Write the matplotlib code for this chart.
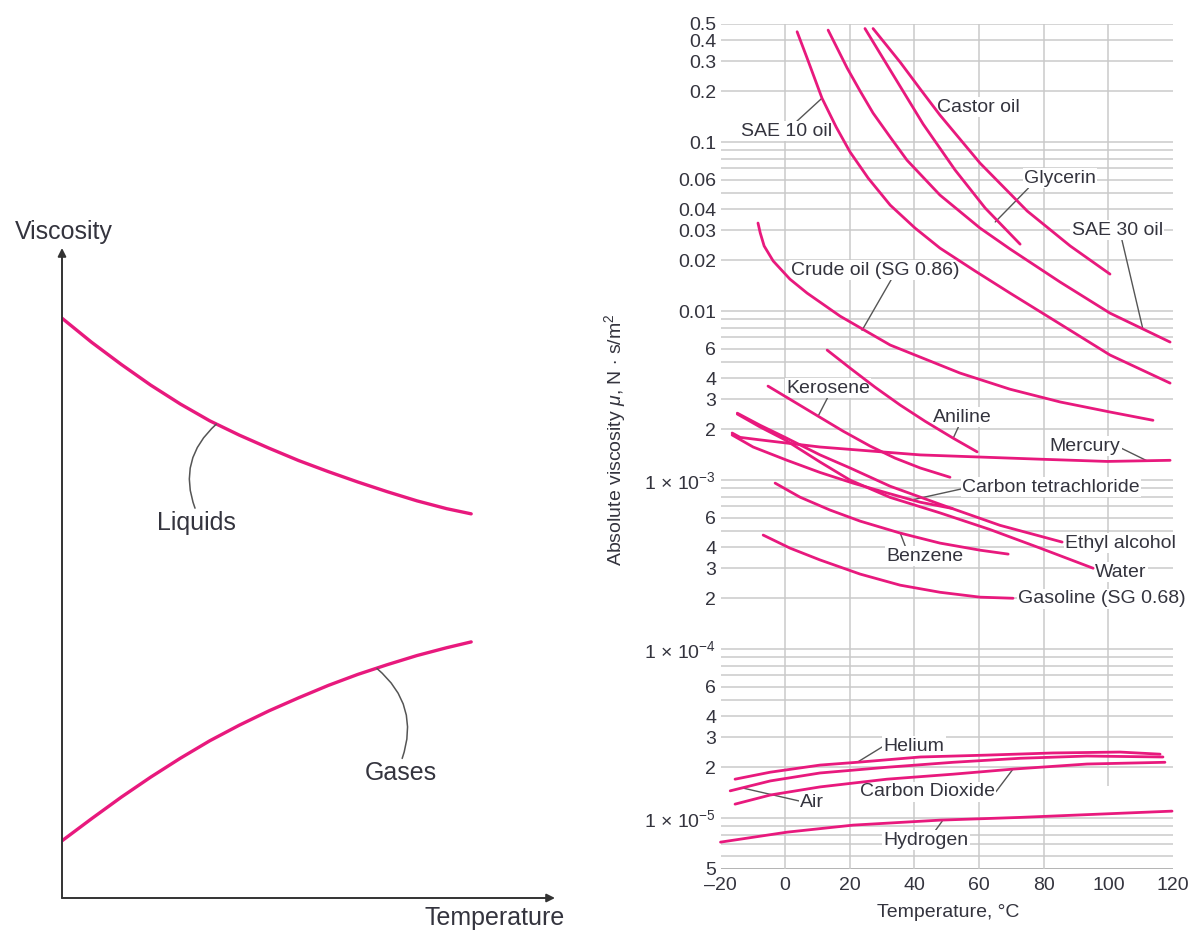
import matplotlib
matplotlib.use("Agg")
import matplotlib.pyplot as plt
from matplotlib.ticker import NullLocator

# --- schematic panel (arbitrary units) ---
liquids_x = [0.0, 0.06, 0.12, 0.18, 0.24, 0.30, 0.36, 0.42, 0.48, 0.54, 0.60, 0.66, 0.72, 0.78, 0.83]
liquids_y = [0.892, 0.855, 0.821, 0.789, 0.760, 0.734, 0.712, 0.692, 0.673, 0.656, 0.640, 0.625, 0.611, 0.599, 0.591]
gases_x = [0.0, 0.06, 0.12, 0.18, 0.24, 0.30, 0.36, 0.42, 0.48, 0.54, 0.60, 0.66, 0.72, 0.78, 0.83]
gases_y = [0.088, 0.122, 0.155, 0.186, 0.215, 0.242, 0.266, 0.288, 0.308, 0.327, 0.344, 0.359, 0.373, 0.385, 0.394]

# --- viscosity chart: temperature (C) and absolute viscosity (N s/m2) ---
sae10_T = [3.7, 6.8, 11.4, 15.8, 20.1, 25.7, 32.5, 40.2, 47.9, 58.8, 69.6, 85.1, 100.5, 119.1]
sae10_mu = [0.45, 0.314, 0.182, 0.1227, 0.0873, 0.0612, 0.0424, 0.031, 0.0236, 0.01726, 0.01278,
            0.00838, 0.0055, 0.00375]
sae30_T = [13.3, 19.2, 23.2, 27.2, 32.5, 37.7, 47.9, 60.3, 69.6, 85.1, 100.5, 119.1]
sae30_mu = [0.46, 0.274, 0.2004, 0.1486, 0.1071, 0.0782, 0.0486, 0.031, 0.0233, 0.01485, 0.00973, 0.00656]
glycerin_T = [24.7, 32.5, 42.7, 52.6, 61.9, 72.7]
glycerin_mu = [0.47, 0.267, 0.1278, 0.0683, 0.0407, 0.0249]
castor_T = [27.2, 35.6, 41.8, 47.9, 60.3, 74.9, 88.2, 100.5]
castor_mu = [0.47, 0.297, 0.206, 0.1445, 0.0751, 0.0391, 0.0243, 0.01656]
crude_T = [-8.4, -7.7, -6.5, -3.7, 1.5, 6.8, 17.0, 32.5, 54.1, 69.6, 85.1, 100.5, 113.8]
crude_mu = [0.0332, 0.029, 0.0243, 0.0198, 0.01545, 0.01278, 0.00934, 0.0063, 0.0043, 0.00345, 0.0029, 0.00253, 0.00226]
kerosene_T = [-5.3, 2.5, 10.2, 17.9, 26.3, 34.0, 41.8, 51.0]
kerosene_mu = [0.0036, 0.00293, 0.00239, 0.00195, 0.00159, 0.00135, 0.00118, 0.00104]
aniline_T = [13.0, 20.1, 27.8, 35.6, 43.3, 52.0, 59.4]
aniline_mu = [0.00588, 0.0046, 0.00355, 0.00278, 0.00223, 0.00177, 0.00147]
mercury_T = [-16.4, -13.9, -7.7, 10.8, 41.8, 78.9, 99.6, 119.1]
mercury_mu = [0.0019, 0.00179, 0.00173, 0.00157, 0.00141, 0.00133, 0.00129, 0.00131]
ccl4_T = [-16.4, -9.9, 0.6, 10.8, 21.0, 31.5, 41.8, 51.7]
ccl4_mu = [0.00185, 0.00157, 0.00131, 0.00111, 0.00096, 0.00084, 0.00074, 0.00068]
ethyl_T = [-14.8, -7.7, 0.0, 10.8, 20.1, 32.5, 47.9, 66.5, 85.7]
ethyl_mu = [0.00249, 0.00211, 0.00179, 0.00141, 0.00118, 0.00092, 0.00072, 0.00054, 0.00043]
water_T = [-14.8, -7.7, 0.0, 10.8, 20.1, 32.5, 47.9, 63.4, 78.9, 95.3]
water_mu = [0.00246, 0.00206, 0.00173, 0.00128, 0.0010, 0.00079, 0.00064, 0.00051, 0.000396, 0.000301]
benzene_T = [-3.1, 4.6, 13.9, 23.2, 35.6, 47.9, 60.3, 69.0]
benzene_mu = [0.00096, 0.000793, 0.000665, 0.000572, 0.000486, 0.000424, 0.000385, 0.000365]
gasoline_T = [-6.8, 1.5, 10.8, 23.2, 35.6, 47.9, 60.3, 70.5]
gasoline_mu = [0.000473, 0.000396, 0.000337, 0.000278, 0.000239, 0.000217, 0.000203, 0.0002]
helium_T = [-15.5, -4.6, 10.8, 22.3, 41.8, 62.5, 82.9, 103.6, 116.0]
helium_mu = [1.70e-5, 1.87e-5, 2.06e-5, 2.14e-5, 2.30e-5, 2.36e-5, 2.43e-5, 2.46e-5, 2.39e-5]
air_T = [-17.0, -4.6, 10.8, 31.5, 52.0, 72.7, 93.4, 116.9]
air_mu = [1.45e-5, 1.66e-5, 1.85e-5, 2.0e-5, 2.14e-5, 2.26e-5, 2.33e-5, 2.30e-5]
co2_T = [-15.5, -4.6, 10.8, 31.5, 52.0, 70.5, 93.4, 117.5]
co2_mu = [1.21e-5, 1.37e-5, 1.53e-5, 1.70e-5, 1.82e-5, 1.95e-5, 2.09e-5, 2.14e-5]
hydrogen_T = [-20.0, 0.6, 21.0, 47.9, 72.7, 119.7]
hydrogen_mu = [7.21e-6, 8.26e-6, 9.09e-6, 9.73e-6, 1.01e-5, 1.10e-5]

x_ticks = [-20, 0, 20, 40, 60, 80, 100, 120]
x_labels = ["\u201320", "0", "20", "40", "60", "80", "100", "120"]
y_ticks = [0.5, 0.4, 0.3, 0.2, 0.1, 0.06, 0.04, 0.03, 0.02, 0.01,
           6e-3, 4e-3, 3e-3, 2e-3, 1e-3, 6e-4, 4e-4, 3e-4, 2e-4, 1e-4,
           6e-5, 4e-5, 3e-5, 2e-5, 1e-5, 5e-6]
y_labels = ["0.5", "0.4", "0.3", "0.2", "0.1", "0.06", "0.04", "0.03", "0.02", "0.01",
            "6", "4", "3", "2", r"1 $\times$ 10$^{-3}$", "6", "4", "3", "2", r"1 $\times$ 10$^{-4}$",
            "6", "4", "3", "2", r"1 $\times$ 10$^{-5}$", "5"]

pink = "#e8197d"
ink = "#34343e"
lead = "#555555"
gridc = "#cacaca"

plt.rcParams["font.family"] = ["Liberation Sans", "DejaVu Sans"]
plt.rcParams["mathtext.fontset"] = "custom"
plt.rcParams["mathtext.rm"] = "Liberation Sans"
plt.rcParams["mathtext.it"] = "Liberation Sans:italic"

W, H = 1194, 936
fig = plt.figure(figsize=(W / 100, H / 100), dpi=100)

# ---------- left: schematic ----------
axl = fig.add_axes([62 / W, 1 - 898 / H, (555 - 62) / W, (898 - 248) / H])
axl.set_xlim(0, 1)
axl.set_ylim(0, 1)
axl.axis("off")
arrow = dict(arrowstyle="-|>", color="#333333", lw=1.4, mutation_scale=12, shrinkA=0, shrinkB=0)
axl.annotate("", xy=(0, 1.0), xytext=(0, 0), arrowprops=arrow, annotation_clip=False)
axl.annotate("", xy=(1.0, 0), xytext=(0, 0), arrowprops=arrow, annotation_clip=False)
axl.plot(liquids_x, liquids_y, color=pink, lw=2.4, solid_capstyle="round", solid_joinstyle="round")
axl.plot(gases_x, gases_y, color=pink, lw=2.4, solid_capstyle="round", solid_joinstyle="round")
axl.text(0.003, 1.025, "Viscosity", fontsize=18, color=ink, ha="center", va="center")
axl.text(1.02, -0.03, "Temperature", fontsize=18, color=ink, ha="right", va="center")
axl.annotate("Liquids", xy=(0.313, 0.729), xytext=(0.272, 0.577), fontsize=18, color=ink,
             ha="center", va="center",
             arrowprops=dict(arrowstyle="-", color=lead, lw=1.1, shrinkA=0, shrinkB=0,
                             relpos=(0.5, 1.0), connectionstyle="arc3,rad=-0.35"))
axl.annotate("Gases", xy=(0.639, 0.353), xytext=(0.688, 0.192), fontsize=18, color=ink,
             ha="center", va="center",
             arrowprops=dict(arrowstyle="-", color=lead, lw=1.1, shrinkA=0, shrinkB=0,
                             relpos=(0.5, 1.0), connectionstyle="arc3,rad=0.35"))

# ---------- right: viscosity chart ----------
ax = fig.add_axes([720.5 / W, 1 - 869 / H, (1173 - 720.5) / W, (869 - 24) / H])
ax.set_xlim(-20, 120)
ax.set_yscale("log")
ax.set_ylim(5e-6, 0.5)
for s in ax.spines.values():
    s.set_visible(False)

grid_vals = [k * 10.0 ** e for e in range(-6, 0) for k in range(1, 10)
             if 5e-6 * 0.999 <= k * 10.0 ** e <= 0.5 * 1.001]
ax.hlines(grid_vals, -20, 120, color=gridc, lw=1.1, zorder=1)
ax.hlines(5e-6, -20, 120, color="#b5b5b5", lw=1.4, zorder=1)
ax.vlines([0, 20, 40, 60, 80], 5e-6, 0.5, color=gridc, lw=1.1, zorder=1)
ax.vlines(100, 1.55e-5, 0.5, color=gridc, lw=1.1, zorder=1)

ax.set_xticks(x_ticks)
ax.set_xticklabels(x_labels)
ax.set_yticks(y_ticks)
ax.set_yticklabels(y_labels)
ax.yaxis.set_minor_locator(NullLocator())
ax.tick_params(axis="both", length=0, labelsize=14, labelcolor=ink)
ax.tick_params(axis="y", pad=3)
ax.tick_params(axis="x", pad=6)

ax.text(0.503, -0.051, "Temperature, \u00b0C", transform=ax.transAxes, fontsize=14,
        color=ink, ha="center", va="center")
ax.text(-0.232, 0.508, r"Absolute viscosity $\mu$, N $\cdot$ s/m$^2$", transform=ax.transAxes,
        fontsize=14, color=ink, ha="center", va="center", rotation=90)

curves = [(sae10_T, sae10_mu), (sae30_T, sae30_mu), (glycerin_T, glycerin_mu),
          (castor_T, castor_mu), (crude_T, crude_mu), (kerosene_T, kerosene_mu),
          (aniline_T, aniline_mu), (mercury_T, mercury_mu), (ccl4_T, ccl4_mu),
          (ethyl_T, ethyl_mu), (water_T, water_mu), (benzene_T, benzene_mu),
          (gasoline_T, gasoline_mu), (helium_T, helium_mu), (air_T, air_mu),
          (co2_T, co2_mu), (hydrogen_T, hydrogen_mu)]
for t, mu in curves:
    ax.plot(t, mu, color=pink, lw=2.0, solid_capstyle="round", solid_joinstyle="round",
            zorder=4, clip_on=False)

box = dict(facecolor="white", edgecolor="none", pad=1.0)


def label(text, xytext, xy=None, ha="center", relpos=(0.5, 0.5)):
    if xy is None:
        ax.text(xytext[0], xytext[1], text, fontsize=14, color=ink, ha=ha, va="center",
                bbox=box, zorder=3)
    else:
        ax.annotate(text, xy=xy, xytext=xytext, fontsize=14, color=ink, ha=ha, va="center",
                    bbox=box, zorder=3, annotation_clip=False,
                    arrowprops=dict(arrowstyle="-", color=lead, lw=1.0, shrinkA=0, shrinkB=0,
                                    relpos=relpos))


label("SAE 10 oil", (0.3, 0.116), (11.4, 0.182), relpos=(0.6, 1.0))
label("Castor oil", (59.7, 0.161))
label("Glycerin", (85.1, 0.0612), (65.0, 0.0337), relpos=(0.1, 0.1))
label("SAE 30 oil", (102.7, 0.0301), (110.7, 0.0078), relpos=(0.55, 0.0))
label("Crude oil (SG 0.86)", (27.8, 0.0175), (23.8, 0.0077), relpos=(0.6, 0.0))
label("Kerosene", (13.3, 0.0035), (10.2, 0.00239), relpos=(0.5, 0.0))
label("Aniline", (54.7, 0.00236), (52.0, 0.00177), relpos=(0.45, 0.0))
label("Mercury", (92.8, 0.00159), (112.0, 0.0013), relpos=(1.0, 0.4))
label("Carbon tetrachloride", (82.3, 9.1e-4), (38.7, 7.6e-4), relpos=(0.0, 0.4))
label("Ethyl alcohol", (86.6, 4.24e-4), ha="left")
label("Water", (95.9, 2.86e-4), ha="left")
label("Gasoline (SG 0.68)", (72.1, 1.98e-4), ha="left")
label("Benzene", (43.3, 3.55e-4), (35.6, 4.86e-4), relpos=(0.25, 1.0))
label("Helium", (39.9, 2.67e-5), (22.3, 2.14e-5), relpos=(0.0, 0.5))
label("Air", (8.4, 1.23e-5), (-13.3, 1.51e-5), relpos=(0.0, 0.6))
label("Carbon Dioxide", (43.9, 1.43e-5), (70.5, 1.95e-5), relpos=(1.0, 0.4))
label("Hydrogen", (43.6, 7.41e-6), (48.6, 9.6e-6), relpos=(0.6, 1.0))

fig.savefig("out.png", dpi=100)
